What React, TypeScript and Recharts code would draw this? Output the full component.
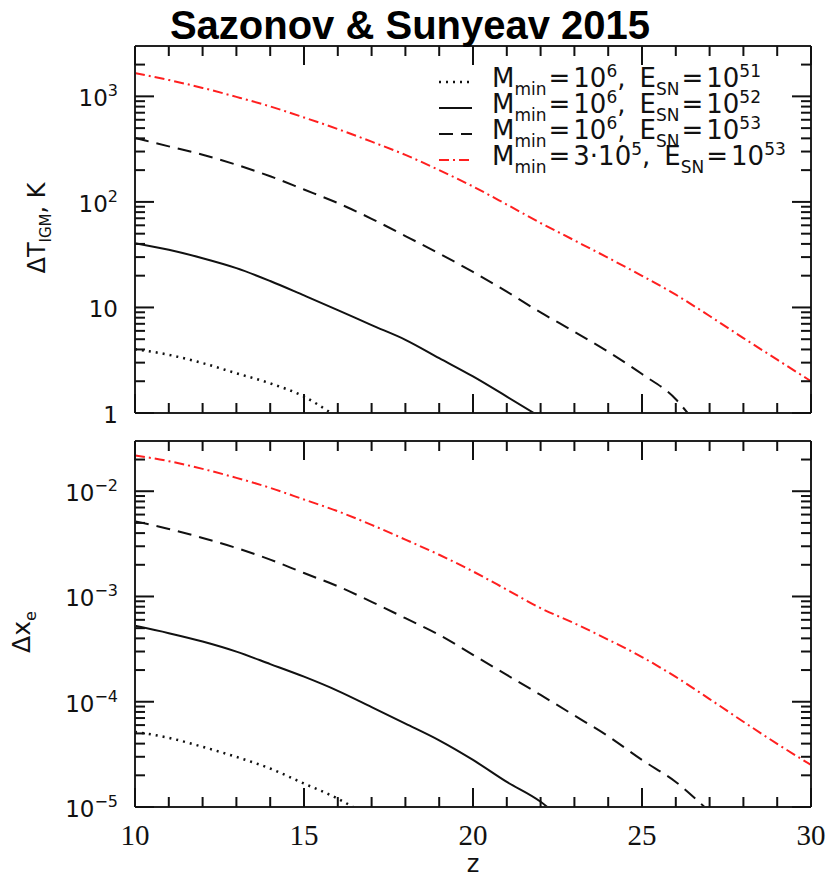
import { LineChart, Line, XAxis, YAxis } from 'recharts';

// redshift grid shared by the curves that span the whole axis
const zFull = [10, 11, 12, 13, 14, 15, 16, 17, 18, 19, 20, 21, 22, 23, 24, 25, 26, 27, 28, 29, 30];

// top panel: Delta T_IGM [K]
const zT51 = [10, 11, 12, 13, 14, 15, 15.8];
const dT51 = [4.03, 3.56, 2.97, 2.38, 1.91, 1.43, 1.0];
const zT52 = [10, 11, 12, 13, 14, 15, 16, 17, 18, 19, 20, 21, 21.8];
const dT52 = [40.7, 35.2, 29.3, 23.6, 17.8, 13.0, 9.45, 6.8, 4.94, 3.31, 2.22, 1.43, 1.0];
const zT53 = [10, 11, 12, 13, 14, 15, 16, 17, 18, 19, 20, 21, 22, 23, 24, 25, 26, 26.35];
const dT53 = [403, 336, 280, 225, 175, 131, 97.5, 69.2, 47.5, 32.4, 21.7, 14.1, 8.97, 5.89, 3.8, 2.34, 1.35, 1.0];
const dTlow = [1663, 1429, 1202, 989, 803, 631, 490, 372, 279, 200, 140, 94.4, 63.1, 43.2, 29.5, 19.95, 13.2, 8.3, 5.13, 3.2, 2.0];

// bottom panel: Delta x_e
const zX51 = [10, 11, 12, 13, 14, 15, 16, 16.45];
const dX51 = [5.18e-5, 4.54e-5, 3.73e-5, 2.99e-5, 2.32e-5, 1.67e-5, 1.2e-5, 1.0e-5];
const zX52 = [10, 11, 12, 13, 14, 15, 16, 17, 18, 19, 20, 21, 22, 22.2];
const dX52 = [5.26e-4, 4.48e-4, 3.73e-4, 2.99e-4, 2.28e-4, 1.73e-4, 1.27e-4, 8.9e-5, 6.2e-5, 4.3e-5, 2.8e-5, 1.73e-5, 1.12e-5, 1.0e-5];
const zX53 = [10, 11, 12, 13, 14, 15, 16, 17, 18, 19, 20, 21, 22, 23, 24, 25, 26, 26.85];
const dX53 = [5.18e-3, 4.38e-3, 3.6e-3, 2.89e-3, 2.24e-3, 1.67e-3, 1.25e-3, 8.9e-4, 6.22e-4, 4.32e-4, 2.79e-4, 1.8e-4, 1.16e-4, 7.4e-5, 4.7e-5, 2.8e-5, 1.73e-5, 1.0e-5];
const dXlow = [0.0219, 0.0193, 0.0163, 0.0134, 0.01076, 0.00834, 0.00645, 0.00479, 0.00347, 0.00249, 0.00173, 0.00116, 7.75e-4, 5.56e-4, 3.89e-4, 2.66e-4, 1.72e-4, 1.06e-4, 6.46e-5, 3.98e-5, 2.51e-5];

const zMajor = [10, 15, 20, 25, 30];
const zMinor = [11, 12, 13, 14, 16, 17, 18, 19, 21, 22, 23, 24, 26, 27, 28, 29];
const tMajor = [1, 10, 100, 1000];
const tMinor = [2, 3, 4, 5, 6, 7, 8, 9, 20, 30, 40, 50, 60, 70, 80, 90, 200, 300, 400, 500, 600, 700, 800, 900, 2000];
const tLabels: Record<number, [string, string]> = { 1: ['1', ''], 10: ['10', ''], 100: ['10', '2'], 1000: ['10', '3'] };
const xeMajor = [1e-5, 1e-4, 1e-3, 0.01];
const xeMinor = [
  2e-5, 3e-5, 4e-5, 5e-5, 6e-5, 7e-5, 8e-5, 9e-5,
  2e-4, 3e-4, 4e-4, 5e-4, 6e-4, 7e-4, 8e-4, 9e-4,
  2e-3, 3e-3, 4e-3, 5e-3, 6e-3, 7e-3, 8e-3, 9e-3,
  0.02,
];
const xeLabels: Record<number, [string, string]> = { 1e-5: ['10', '\u22125'], 1e-4: ['10', '\u22124'], 1e-3: ['10', '\u22123'], 0.01: ['10', '\u22122'] };

const legendRows = [
  { m: '10', mExp: '6', eExp: '51', dash: '2 5', color: '#111', w: 2.5 },
  { m: '10', mExp: '6', eExp: '52', dash: undefined, color: '#111', w: 2 },
  { m: '10', mExp: '6', eExp: '53', dash: '14 8', color: '#111', w: 2 },
  { m: '3\u00b710', mExp: '5', eExp: '53', dash: '10 4 2 4', color: '#ff1f1f', w: 2 },
];

const rows = (z: number[], v: number[]) => z.map((x, i) => ({ z: x, v: v[i] }));

const INK = '#222';
const SANS = 'DejaVu Sans, Liberation Sans, sans-serif';
const SERIF = 'Liberation Serif, Times New Roman, serif';
const MAJOR = 19;
const MINOR = 10;

// plot boxes (same as the chart margins below)
const PLOT_L = 135;
const PLOT_R = 811;
const panels = [
  { top: 46, bottom: 413, domain: [1, 3000] as [number, number], major: tMajor, minor: tMinor },
  { top: 441, bottom: 807, domain: [1e-5, 0.03] as [number, number], major: xeMajor, minor: xeMinor },
];

type Seg = { x1: number; y1: number; x2: number; y2: number };

// inward tick marks on all four sides of a panel frame
function tickSegs(p: (typeof panels)[number]): Seg[] {
  const xPx = (z: number) => PLOT_L + ((z - 10) / 20) * (PLOT_R - PLOT_L);
  const span = Math.log10(p.domain[1] / p.domain[0]);
  const yPx = (v: number) => p.bottom - (Math.log10(v / p.domain[0]) / span) * (p.bottom - p.top);
  const out: Seg[] = [];
  const xs: [number, number][] = [...zMajor.map((z) => [z, MAJOR] as [number, number]), ...zMinor.map((z) => [z, MINOR] as [number, number])];
  xs.forEach(([z, len]) => {
    const x = xPx(z);
    out.push({ x1: x, y1: p.bottom, x2: x, y2: p.bottom - len });
    out.push({ x1: x, y1: p.top, x2: x, y2: p.top + len });
  });
  const ys: [number, number][] = [...p.major.map((v) => [v, MAJOR] as [number, number]), ...p.minor.map((v) => [v, MINOR] as [number, number])];
  ys.forEach(([v, len]) => {
    const y = yPx(v);
    out.push({ x1: PLOT_L, y1: y, x2: PLOT_L + len, y2: y });
    out.push({ x1: PLOT_R, y1: y, x2: PLOT_R - len, y2: y });
  });
  return out;
}

function XLabel(props: any) {
  const { x, y, payload, show } = props;
  if (!show) return <g />;
  return (
    <text x={x} y={y + 38} textAnchor="middle" fontFamily={SERIF} fontSize={29} fill="#111">{payload.value}</text>
  );
}

function YLabel(props: any) {
  const { x, y, payload, labels } = props;
  const lab = labels[payload.value];
  if (!lab) return <g />;
  return (
    <text x={x - 17} y={y + 10} textAnchor="end" fontFamily={SANS} fontSize={23} fill="#111">
      <tspan>{lab[0]}</tspan>
      {lab[1] && <tspan dy={-10} fontSize={16}>{lab[1]}</tspan>}
    </text>
  );
}

const axisLine = { stroke: INK, strokeWidth: 2 };

// axes are 1px thick so they still render; margins are reduced by that pixel
function Frame({ major, domain, labels, xLabels }: {
  major: number[]; domain: [number, number]; labels: Record<number, [string, string]>; xLabels: boolean;
}) {
  const x = { dataKey: 'z', type: 'number' as const, domain: [10, 30] as [number, number], interval: 0 as const, allowDataOverflow: true, height: 1, stroke: INK, tickLine: false, tickSize: 0, tickMargin: 0, axisLine };
  const y = { type: 'number' as const, scale: 'log' as const, domain, interval: 0 as const, allowDataOverflow: true, width: 1, stroke: INK, tickLine: false, tickSize: 0, tickMargin: 0, axisLine };
  return [
    <XAxis key="xb" {...x} ticks={zMajor} tick={(p: any) => <XLabel {...p} show={xLabels} />} />,
    <XAxis key="xt" xAxisId="top" orientation="top" {...x} ticks={zMajor} tick={() => <g />} />,
    <YAxis key="yl" {...y} ticks={major} tick={(p: any) => <YLabel {...p} labels={labels} />} />,
    <YAxis key="yr" yAxisId="r" orientation="right" {...y} ticks={major} tick={() => <g />} />,
  ];
}

function Curves({ sets }: { sets: { z: number[]; v: number[] }[] }) {
  return sets.map((s, i) => (
    <Line key={i} data={rows(s.z, s.v)} dataKey="v" type="monotone" dot={false} isAnimationActive={false}
      stroke={legendRows[i].color} strokeWidth={legendRows[i].w} strokeDasharray={legendRows[i].dash} />
  ));
}

export default function App() {
  const topSets = [
    { z: zT51, v: dT51 }, { z: zT52, v: dT52 }, { z: zT53, v: dT53 }, { z: zFull, v: dTlow },
  ];
  const botSets = [
    { z: zX51, v: dX51 }, { z: zX52, v: dX52 }, { z: zX53, v: dX53 }, { z: zFull, v: dXlow },
  ];
  const segs = [...tickSegs(panels[0]), ...tickSegs(panels[1])];
  return (
    <div style={{ position: 'absolute', top: 0, left: 0, width: 831, height: 878, background: '#fff' }}>
      <div style={{ position: 'absolute', top: 0, left: 0 }}>
        <LineChart width={831} height={430} margin={{ top: 45, right: 19, bottom: 16, left: 134 }}>
          {Frame({ major: tMajor, domain: [1, 3000], labels: tLabels, xLabels: false })}
          {Curves({ sets: topSets })}
        </LineChart>
      </div>
      <div style={{ position: 'absolute', top: 430, left: 0 }}>
        <LineChart width={831} height={448} margin={{ top: 10, right: 19, bottom: 70, left: 134 }}>
          {Frame({ major: xeMajor, domain: [1e-5, 0.03], labels: xeLabels, xLabels: true })}
          {Curves({ sets: botSets })}
        </LineChart>
      </div>
      <svg width={831} height={878} style={{ position: 'absolute', top: 0, left: 0, pointerEvents: 'none' }}>
        {segs.map((s, i) => (
          <line key={`tk${i}`} x1={s.x1} y1={s.y1} x2={s.x2} y2={s.y2} stroke="#111" strokeWidth={2} />
        ))}
        <text x={410} y={39} textAnchor="middle" fontFamily="Liberation Sans, Arial, sans-serif" fontWeight="bold" fontSize={40} fill="#000">
          Sazonov &amp; Sunyeav 2015
        </text>
        {legendRows.map((r, i) => {
          const base = 87 + i * 26;
          return (
            <g key={i}>
              <line x1={439} x2={472} y1={base - 5} y2={base - 5} stroke={r.color} strokeWidth={r.w} strokeDasharray={r.dash} />
              <text x={492} y={base} fontFamily={SANS} fontSize={26} fill="#111">
                <tspan>M</tspan>
                <tspan dy={8} fontSize={17}>min</tspan>
                <tspan dy={-8} dx={2}>=</tspan>
                <tspan dx={3}>{r.m}</tspan>
                <tspan dy={-10} fontSize={17}>{r.mExp}</tspan>
                <tspan dy={10}>,</tspan>
                <tspan dx={14}>E</tspan>
                <tspan dy={8} fontSize={17}>SN</tspan>
                <tspan dy={-8} dx={2}>=</tspan>
                <tspan dx={3}>10</tspan>
                <tspan dy={-10} fontSize={17}>{r.eExp}</tspan>
              </text>
            </g>
          );
        })}
        <text x={45} y={228} transform="rotate(-90 45 228)" textAnchor="middle" fontFamily={SANS} fontSize={24} fill="#111">
          <tspan>{'\u0394T'}</tspan>
          <tspan dy={6} fontSize={15}>IGM</tspan>
          <tspan dy={-6}>{',  K'}</tspan>
        </text>
        <text x={30} y={632} transform="rotate(-90 30 632)" textAnchor="middle" fontFamily={SANS} fontSize={25} fill="#111">
          <tspan>{'\u0394x'}</tspan>
          <tspan dy={6} fontSize={16}>e</tspan>
        </text>
        <text x={473} y={872} textAnchor="middle" fontFamily={SANS} fontSize={24} fill="#111">z</text>
      </svg>
    </div>
  );
}
